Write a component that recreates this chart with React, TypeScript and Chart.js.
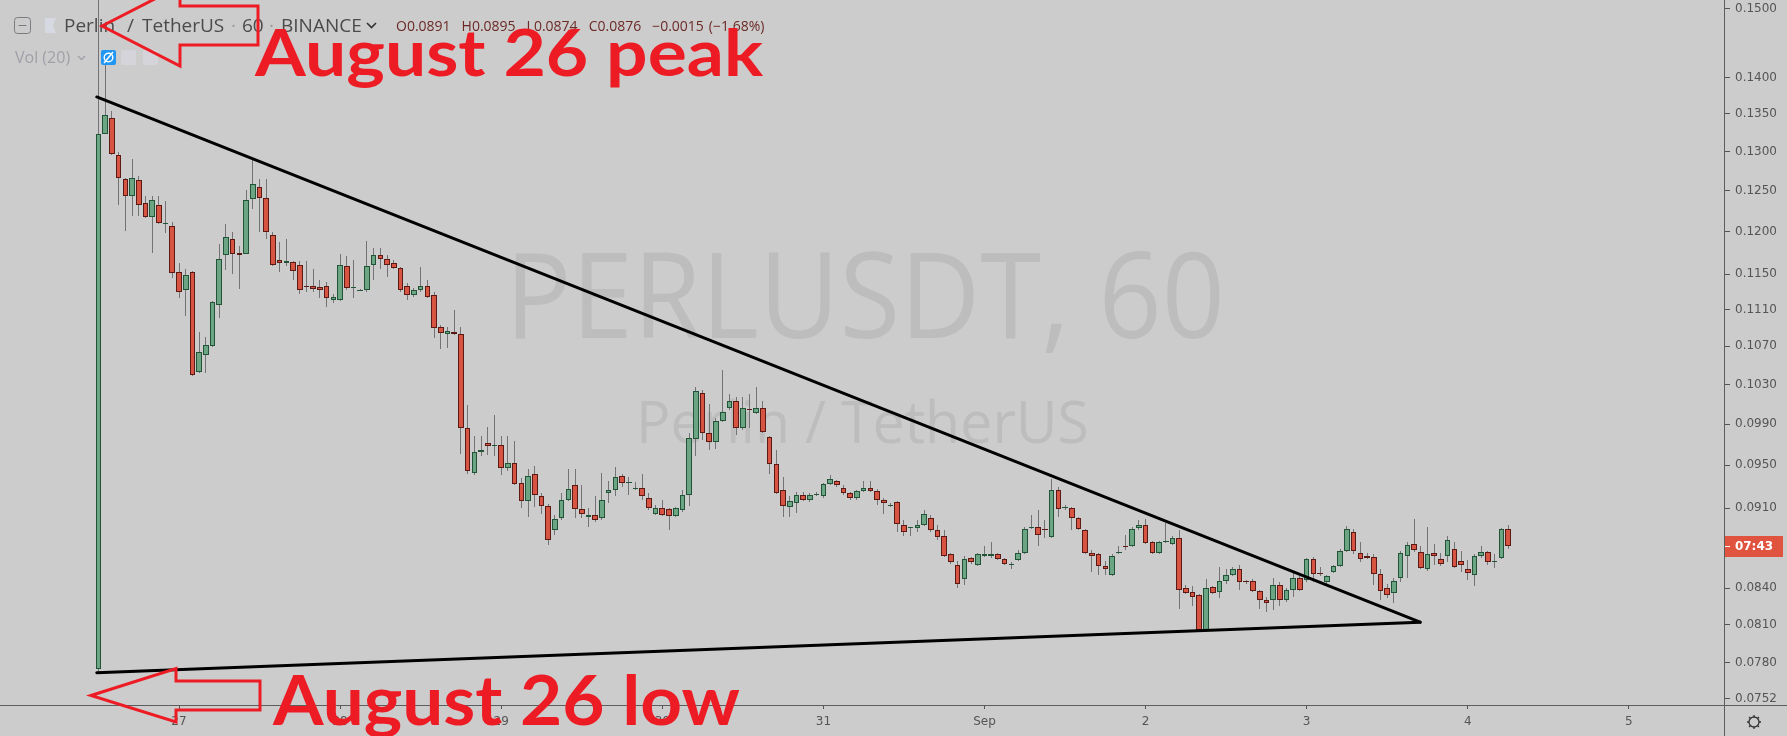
import React, { useEffect, useRef } from "react";
import { Chart, registerables } from "chart.js";

Chart.register(...registerables);

// Hourly candles, PERL/USDT (Binance, 60 min). First candle: Aug 26, 12:00 (hour 12 from Aug 26 00:00)
const START_HOUR = 12;

const opens = [
  0.0775, 0.1323, 0.1345, 0.1295, 0.1265, 0.1243, 0.1263, 0.1235, 0.1218, 0.1233,
  0.1210, 0.1207, 0.1153, 0.1132, 0.1153, 0.1043, 0.1061, 0.1070, 0.1115, 0.1172,
  0.1191, 0.1175, 0.1174, 0.1240, 0.1255, 0.1241, 0.1196, 0.1166, 0.1163, 0.1164,
  0.1161, 0.1137, 0.1136, 0.1135, 0.1136, 0.1121, 0.1121, 0.1160, 0.1134, 0.1132,
  0.1132, 0.1161, 0.1172, 0.1168, 0.1163, 0.1157, 0.1136, 0.1126, 0.1132, 0.1136,
  0.1126, 0.1091, 0.1083, 0.1085, 0.1083, 0.0986, 0.0943, 0.0963, 0.0971, 0.0968,
  0.0969, 0.0947, 0.0952, 0.0933, 0.0917, 0.0942, 0.0921, 0.0912, 0.0890, 0.0901,
  0.0918, 0.0931, 0.0909, 0.0902, 0.0904, 0.0901, 0.0924, 0.0927, 0.0940, 0.0933,
  0.0928, 0.0929, 0.0919, 0.0905, 0.0910, 0.0909, 0.0903, 0.0908, 0.0922, 0.0975,
  0.1021, 0.0981, 0.0972, 0.0993, 0.1006, 0.1013, 0.0986, 0.1005, 0.1001, 0.1006,
  0.0977, 0.0951, 0.0927, 0.0911, 0.0915, 0.0922, 0.0918, 0.0922, 0.0921, 0.0932,
  0.0935, 0.0929, 0.0924, 0.0919, 0.0926, 0.0929, 0.0926, 0.0918, 0.0912, 0.0916,
  0.0895, 0.0892, 0.0892, 0.0895, 0.0901, 0.0890, 0.0885, 0.0869, 0.0860, 0.0848,
  0.0866, 0.0860, 0.0868, 0.0868, 0.0869, 0.0865, 0.0860, 0.0864, 0.0870, 0.0892,
  0.0893, 0.0891, 0.0884, 0.0927, 0.0910, 0.0910, 0.0901, 0.0890, 0.0870, 0.0869,
  0.0859, 0.0851, 0.0870, 0.0876, 0.0876, 0.0892, 0.0895, 0.0880, 0.0870, 0.0880,
  0.0878, 0.0883, 0.0840, 0.0837, 0.0834, 0.0806, 0.0841, 0.0837, 0.0846, 0.0851,
  0.0856, 0.0846, 0.0846, 0.0838, 0.0830, 0.0830, 0.0843, 0.0830, 0.0839, 0.0849,
  0.0847, 0.0865, 0.0853, 0.0845, 0.0854, 0.0859, 0.0872, 0.0889, 0.0870, 0.0868,
  0.0867, 0.0852, 0.0840, 0.0836, 0.0849, 0.0868, 0.0878, 0.0871, 0.0856, 0.0870,
  0.0865, 0.0868, 0.0874, 0.0863, 0.0856, 0.0851, 0.0868, 0.0871, 0.0863, 0.0866,
  0.0891,
];

const highs = [
  0.1550, 0.1425, 0.1354, 0.1300, 0.1266, 0.1291, 0.1269, 0.1243, 0.1244, 0.1243,
  0.1237, 0.1212, 0.1163, 0.1156, 0.1154, 0.1085, 0.1080, 0.1120, 0.1185, 0.1209,
  0.1200, 0.1183, 0.1251, 0.1290, 0.1265, 0.1265, 0.1200, 0.1188, 0.1191, 0.1165,
  0.1165, 0.1165, 0.1156, 0.1143, 0.1141, 0.1127, 0.1173, 0.1171, 0.1166, 0.1133,
  0.1189, 0.1181, 0.1181, 0.1172, 0.1166, 0.1158, 0.1140, 0.1134, 0.1158, 0.1143,
  0.1130, 0.1093, 0.1091, 0.1110, 0.1091, 0.1009, 0.0978, 0.0978, 0.0987, 0.0999,
  0.0978, 0.0978, 0.0973, 0.0938, 0.0946, 0.0949, 0.0924, 0.0914, 0.0904, 0.0924,
  0.0946, 0.0946, 0.0931, 0.0910, 0.0921, 0.0943, 0.0935, 0.0948, 0.0942, 0.0939,
  0.0934, 0.0942, 0.0924, 0.0913, 0.0918, 0.0910, 0.0911, 0.0927, 0.0981, 0.1027,
  0.1024, 0.1010, 0.0996, 0.1045, 0.1020, 0.1017, 0.1017, 0.1020, 0.1027, 0.1013,
  0.0978, 0.0965, 0.0939, 0.0921, 0.0925, 0.0925, 0.0924, 0.0925, 0.0933, 0.0941,
  0.0936, 0.0931, 0.0925, 0.0927, 0.0935, 0.0935, 0.0928, 0.0919, 0.0915, 0.0917,
  0.0899, 0.0893, 0.0899, 0.0908, 0.0904, 0.0895, 0.0890, 0.0870, 0.0863, 0.0868,
  0.0867, 0.0870, 0.0876, 0.0880, 0.0870, 0.0866, 0.0862, 0.0873, 0.0893, 0.0904,
  0.0908, 0.0899, 0.0937, 0.0930, 0.0913, 0.0911, 0.0902, 0.0891, 0.0873, 0.0870,
  0.0863, 0.0869, 0.0876, 0.0886, 0.0893, 0.0899, 0.0900, 0.0881, 0.0881, 0.0897,
  0.0885, 0.0890, 0.0843, 0.0842, 0.0835, 0.0848, 0.0842, 0.0858, 0.0856, 0.0858,
  0.0860, 0.0847, 0.0848, 0.0839, 0.0833, 0.0849, 0.0845, 0.0840, 0.0853, 0.0850,
  0.0866, 0.0867, 0.0858, 0.0851, 0.0860, 0.0874, 0.0894, 0.0891, 0.0880, 0.0870,
  0.0869, 0.0856, 0.0844, 0.0849, 0.0872, 0.0880, 0.0900, 0.0876, 0.0893, 0.0878,
  0.0870, 0.0885, 0.0880, 0.0872, 0.0864, 0.0869, 0.0876, 0.0872, 0.0869, 0.0892,
  0.0895,
];

const lows = [
  0.0772, 0.1323, 0.1296, 0.1232, 0.1201, 0.1219, 0.1219, 0.1217, 0.1175, 0.1209,
  0.1198, 0.1146, 0.1123, 0.1103, 0.1039, 0.1042, 0.1042, 0.1069, 0.1101, 0.1155,
  0.1150, 0.1133, 0.1174, 0.1228, 0.1200, 0.1191, 0.1159, 0.1153, 0.1159, 0.1143,
  0.1128, 0.1130, 0.1130, 0.1123, 0.1113, 0.1117, 0.1120, 0.1132, 0.1123, 0.1131,
  0.1130, 0.1143, 0.1156, 0.1147, 0.1156, 0.1130, 0.1121, 0.1124, 0.1130, 0.1123,
  0.1079, 0.1067, 0.1068, 0.1082, 0.0961, 0.0942, 0.0941, 0.0959, 0.0960, 0.0959,
  0.0941, 0.0945, 0.0931, 0.0910, 0.0902, 0.0911, 0.0905, 0.0877, 0.0886, 0.0899,
  0.0917, 0.0901, 0.0901, 0.0893, 0.0898, 0.0899, 0.0915, 0.0921, 0.0930, 0.0922,
  0.0927, 0.0918, 0.0908, 0.0904, 0.0903, 0.0890, 0.0902, 0.0907, 0.0912, 0.0959,
  0.0974, 0.0965, 0.0966, 0.0992, 0.1004, 0.0979, 0.0984, 0.0986, 0.1000, 0.0981,
  0.0942, 0.0923, 0.0902, 0.0902, 0.0906, 0.0917, 0.0916, 0.0921, 0.0919, 0.0931,
  0.0930, 0.0922, 0.0918, 0.0918, 0.0925, 0.0925, 0.0913, 0.0905, 0.0911, 0.0889,
  0.0885, 0.0885, 0.0889, 0.0894, 0.0889, 0.0882, 0.0867, 0.0861, 0.0840, 0.0843,
  0.0861, 0.0859, 0.0867, 0.0866, 0.0864, 0.0860, 0.0856, 0.0863, 0.0869, 0.0891,
  0.0876, 0.0883, 0.0883, 0.0902, 0.0908, 0.0890, 0.0890, 0.0869, 0.0854, 0.0851,
  0.0851, 0.0850, 0.0869, 0.0873, 0.0875, 0.0890, 0.0878, 0.0869, 0.0869, 0.0879,
  0.0877, 0.0823, 0.0835, 0.0825, 0.0805, 0.0805, 0.0835, 0.0832, 0.0844, 0.0850,
  0.0839, 0.0844, 0.0837, 0.0823, 0.0820, 0.0822, 0.0825, 0.0829, 0.0833, 0.0838,
  0.0845, 0.0845, 0.0850, 0.0844, 0.0853, 0.0858, 0.0871, 0.0869, 0.0862, 0.0865,
  0.0843, 0.0830, 0.0832, 0.0828, 0.0845, 0.0849, 0.0871, 0.0856, 0.0855, 0.0860,
  0.0859, 0.0862, 0.0857, 0.0854, 0.0847, 0.0842, 0.0866, 0.0860, 0.0857, 0.0865,
  0.0874,
];

const closes = [
  0.1323, 0.1348, 0.1297, 0.1266, 0.1244, 0.1266, 0.1233, 0.1218, 0.1239, 0.1210,
  0.1211, 0.1151, 0.1130, 0.1149, 0.1040, 0.1064, 0.1071, 0.1119, 0.1168, 0.1194,
  0.1173, 0.1172, 0.1239, 0.1258, 0.1241, 0.1200, 0.1161, 0.1163, 0.1165, 0.1154,
  0.1132, 0.1135, 0.1133, 0.1132, 0.1123, 0.1124, 0.1161, 0.1134, 0.1135, 0.1132,
  0.1159, 0.1172, 0.1168, 0.1161, 0.1157, 0.1132, 0.1126, 0.1132, 0.1136, 0.1124,
  0.1090, 0.1084, 0.1087, 0.1083, 0.0986, 0.0945, 0.0963, 0.0965, 0.0968, 0.0969,
  0.0947, 0.0952, 0.0932, 0.0917, 0.0940, 0.0922, 0.0912, 0.0882, 0.0900, 0.0918,
  0.0928, 0.0909, 0.0905, 0.0904, 0.0899, 0.0918, 0.0927, 0.0939, 0.0933, 0.0934,
  0.0929, 0.0921, 0.0910, 0.0910, 0.0904, 0.0903, 0.0910, 0.0922, 0.0976, 0.1023,
  0.0981, 0.0972, 0.0993, 0.1002, 0.1013, 0.0986, 0.1006, 0.1004, 0.1006, 0.0982,
  0.0951, 0.0924, 0.0912, 0.0917, 0.0922, 0.0918, 0.0922, 0.0923, 0.0932, 0.0937,
  0.0931, 0.0924, 0.0919, 0.0926, 0.0929, 0.0926, 0.0918, 0.0915, 0.0913, 0.0896,
  0.0889, 0.0893, 0.0895, 0.0905, 0.0890, 0.0884, 0.0868, 0.0862, 0.0844, 0.0865,
  0.0862, 0.0869, 0.0869, 0.0869, 0.0865, 0.0861, 0.0861, 0.0870, 0.0891, 0.0893,
  0.0886, 0.0890, 0.0927, 0.0909, 0.0911, 0.0901, 0.0891, 0.0870, 0.0868, 0.0859,
  0.0856, 0.0868, 0.0871, 0.0875, 0.0891, 0.0895, 0.0879, 0.0870, 0.0880, 0.0881,
  0.0883, 0.0839, 0.0836, 0.0833, 0.0806, 0.0840, 0.0836, 0.0846, 0.0851, 0.0856,
  0.0845, 0.0845, 0.0838, 0.0830, 0.0828, 0.0843, 0.0830, 0.0839, 0.0849, 0.0839,
  0.0865, 0.0852, 0.0852, 0.0850, 0.0859, 0.0872, 0.0891, 0.0872, 0.0865, 0.0866,
  0.0852, 0.0838, 0.0834, 0.0846, 0.0870, 0.0877, 0.0873, 0.0857, 0.0869, 0.0868,
  0.0861, 0.0882, 0.0858, 0.0860, 0.0853, 0.0868, 0.0871, 0.0862, 0.0863, 0.0891,
  0.0876,
];

// hour offsets (from Aug 26 00:00) of each hourly candle
const hours = opens.map((_, i) => START_HOUR + i);

// time axis: midnight of each day
const dayTickHours = [24, 48, 72, 96, 120, 144, 168, 192, 216, 240];
const dayTickLabels = ["27", "28", "29", "30", "31", "Sep", "2", "3", "4", "5"];

// price axis ticks
const priceTicks = [
  0.15, 0.14, 0.135, 0.13, 0.125, 0.12, 0.115, 0.111, 0.107, 0.103,
  0.099, 0.095, 0.091, 0.087, 0.084, 0.081, 0.078, 0.0752,
];

// visible ranges
const X_MIN = -2.667;
const X_MAX = 254.17;
const Y_MIN = 0.074749;
const Y_MAX = 0.15128;

// hand-drawn triangle (hour, price)
const trendUpper = [
  { x: 11.75, y: 0.1373 },
  { x: 208.9, y: 0.0812 },
];
const trendLower = [
  { x: 11.75, y: 0.0772 },
  { x: 208.9, y: 0.0812 },
];

const legendValues = ["O0.0891", "H0.0895", "L0.0874", "C0.0876", "\u22120.0015", "(\u22121.68%)"];
const lastPrice = 0.0876;
const countdown = "07:43";

const BG = "#cccccc";
const UP_FILL = "#6ba583";
const UP_BORDER = "#225437";
const DOWN_FILL = "#d75442";
const DOWN_BORDER = "#5b1a13";
const WICK = "#737375";
const RED = "#ed1c24";

function fitText(
  ctx: CanvasRenderingContext2D,
  text: string,
  x: number,
  baseline: number,
  cap: number,
  width: number,
  weight: string,
  family: string,
  color: string
) {
  ctx.save();
  ctx.font = `${weight} 100px ${family}`;
  const m = ctx.measureText("H");
  const ratio = (m.actualBoundingBoxAscent || 71.4) / 100;
  const size = cap / ratio;
  ctx.font = `${weight} ${size}px ${family}`;
  const w = ctx.measureText(text).width;
  ctx.translate(x, baseline);
  ctx.scale(width / w, 1);
  ctx.fillStyle = color;
  ctx.textBaseline = "alphabetic";
  ctx.textAlign = "left";
  ctx.fillText(text, 0, 0);
  ctx.restore();
}

function roundRect(ctx: CanvasRenderingContext2D, x: number, y: number, w: number, h: number, r: number) {
  ctx.beginPath();
  ctx.moveTo(x + r, y);
  ctx.lineTo(x + w - r, y);
  ctx.quadraticCurveTo(x + w, y, x + w, y + r);
  ctx.lineTo(x + w, y + h - r);
  ctx.quadraticCurveTo(x + w, y + h, x + w - r, y + h);
  ctx.lineTo(x + r, y + h);
  ctx.quadraticCurveTo(x, y + h, x, y + h - r);
  ctx.lineTo(x, y + r);
  ctx.quadraticCurveTo(x, y, x + r, y);
  ctx.closePath();
}

function drawArrow(ctx: CanvasRenderingContext2D, pts: number[][]) {
  ctx.save();
  ctx.strokeStyle = RED;
  ctx.lineWidth = 3;
  ctx.lineJoin = "miter";
  ctx.beginPath();
  pts.forEach((p, i) => (i === 0 ? ctx.moveTo(p[0], p[1]) : ctx.lineTo(p[0], p[1])));
  ctx.closePath();
  ctx.stroke();
  ctx.restore();
}

const tvPlugin = {
  id: "tvPlugin",
  beforeDraw(chart: any) {
    const { ctx, width, height } = chart;
    ctx.save();
    ctx.fillStyle = BG;
    ctx.fillRect(0, 0, width, height);
    ctx.restore();
  },
  beforeDatasetsDraw(chart: any) {
    const ctx = chart.ctx as CanvasRenderingContext2D;
    fitText(ctx, "PERLUSDT, 60", 505, 338, 87, 720, "normal", '"Open Sans"', "#bdbdbd");
    fitText(ctx, "Perlin / TetherUS", 636, 443, 43, 453, "normal", '"Open Sans"', "#bdbdbd");
  },
  afterDatasetsDraw(chart: any) {
    const { ctx, chartArea: a, scales } = chart;
    const xs = scales.x;
    const ys = scales.y;
    ctx.save();
    ctx.beginPath();
    ctx.rect(a.left, a.top, a.right - a.left, a.bottom - a.top);
    ctx.clip();
    for (let i = 0; i < opens.length; i++) {
      const xc = xs.getPixelForValue(hours[i]);
      const wx = Math.round(xc - 0.5);
      const yh = Math.round(ys.getPixelForValue(highs[i]));
      const yl = Math.round(ys.getPixelForValue(lows[i]));
      const yo = ys.getPixelForValue(opens[i]);
      const yc = ys.getPixelForValue(closes[i]);
      const up = closes[i] >= opens[i];
      ctx.fillStyle = WICK;
      ctx.fillRect(wx, yh, 1, Math.max(1, yl - yh));
      const top = Math.round(Math.min(yo, yc));
      const bot = Math.round(Math.max(yo, yc));
      const h = Math.max(1, bot - top);
      const left = Math.round(xc - 2.8);
      const right = Math.round(xc + 2.8);
      const bw = right - left;
      ctx.fillStyle = up ? UP_BORDER : DOWN_BORDER;
      ctx.fillRect(left, top, bw, h);
      if (h > 2) {
        ctx.fillStyle = up ? UP_FILL : DOWN_FILL;
        ctx.fillRect(left + 1, top + 1, bw - 2, h - 2);
      }
    }
    // trend lines
    ctx.strokeStyle = "#000";
    ctx.lineWidth = 3;
    ctx.lineCap = "round";
    [trendUpper, trendLower].forEach((ln) => {
      ctx.beginPath();
      ctx.moveTo(xs.getPixelForValue(ln[0].x), ys.getPixelForValue(ln[0].y));
      ctx.lineTo(xs.getPixelForValue(ln[1].x), ys.getPixelForValue(ln[1].y));
      ctx.stroke();
    });
    ctx.restore();
  },
  afterDraw(chart: any) {
    const { ctx, chartArea: a, scales, width, height } = chart;
    const ys = scales.y;
    ctx.save();
    // axis borders
    ctx.fillStyle = "#5d5d5d";
    ctx.fillRect(0, Math.round(a.bottom), width, 1);
    ctx.fillRect(Math.round(a.right), 0, 1, height);

    // last price / countdown label
    const py = Math.round(ys.getPixelForValue(lastPrice));
    ctx.fillStyle = "#e0533f";
    ctx.fillRect(a.right + 1, py - 10, 58, 21);
    ctx.fillStyle = "#ffffff";
    ctx.fillRect(a.right + 1, py, 5, 1);
    ctx.font = 'bold 12px "DejaVu Sans"';
    ctx.textAlign = "center";
    ctx.textBaseline = "middle";
    ctx.fillText(countdown, a.right + 30, py + 1);

    // settings gear
    const gx = 1754, gy = 722;
    ctx.strokeStyle = "#333";
    ctx.lineWidth = 1.3;
    ctx.beginPath();
    ctx.arc(gx, gy, 5, 0, Math.PI * 2);
    ctx.stroke();
    for (let k = 0; k < 8; k++) {
      const ang = (k * Math.PI) / 4;
      ctx.beginPath();
      ctx.moveTo(gx + Math.cos(ang) * 5, gy + Math.sin(ang) * 5);
      ctx.lineTo(gx + Math.cos(ang) * 7, gy + Math.sin(ang) * 7);
      ctx.stroke();
    }

    // header legend
    ctx.textAlign = "left";
    ctx.textBaseline = "alphabetic";
    ctx.strokeStyle = "#7a7a80";
    ctx.lineWidth = 1;
    roundRect(ctx, 14.5, 17.5, 16, 16, 3);
    ctx.stroke();
    ctx.beginPath();
    ctx.moveTo(18.5, 25.5);
    ctx.lineTo(26.5, 25.5);
    ctx.stroke();
    ctx.fillStyle = "#d6d9e2";
    ctx.beginPath();
    ctx.moveTo(45, 18);
    ctx.lineTo(56, 18);
    ctx.lineTo(53, 25.5);
    ctx.lineTo(56, 33);
    ctx.lineTo(45, 33);
    ctx.closePath();
    ctx.fill();

    ctx.font = '19px "Open Sans"';
    ctx.fillStyle = "#4b4b4b";
    ctx.fillText("Perlin", 64, 32);
    ctx.fillText("/", 127, 32);
    ctx.fillText("TetherUS", 142, 32);
    ctx.fillText("60", 242, 32);
    ctx.fillText("BINANCE", 281, 32);
    ctx.fillStyle = "#9a9a9a";
    ctx.fillText("\u00b7", 231, 32);
    ctx.fillText("\u00b7", 269, 32);
    ctx.strokeStyle = "#333";
    ctx.lineWidth = 1.6;
    ctx.beginPath();
    ctx.moveTo(367, 23);
    ctx.lineTo(371.5, 27.5);
    ctx.lineTo(376, 23);
    ctx.stroke();

    ctx.font = '14px "Open Sans"';
    ctx.fillStyle = "#6b2a26";
    let lx = 396;
    legendValues.forEach((t, i) => {
      ctx.fillText(t, lx, 31);
      lx += ctx.measureText(t).width + (i === 4 ? 5 : 11);
    });

    ctx.font = '16px "Open Sans"';
    ctx.fillStyle = "#a0a0a8";
    ctx.fillText("Vol (20)", 15, 63);
    ctx.strokeStyle = "#a0a0a8";
    ctx.lineWidth = 1.3;
    ctx.beginPath();
    ctx.moveTo(78, 56);
    ctx.lineTo(81.5, 59.5);
    ctx.lineTo(85, 56);
    ctx.stroke();
    ctx.fillStyle = "#2196f3";
    roundRect(ctx, 101, 50, 15, 15, 2);
    ctx.fill();
    ctx.strokeStyle = "#fff";
    ctx.lineWidth = 1.4;
    ctx.beginPath();
    ctx.arc(108.5, 57.5, 4.3, 0, Math.PI * 2);
    ctx.stroke();
    ctx.beginPath();
    ctx.moveTo(104, 63);
    ctx.lineTo(113, 52);
    ctx.stroke();
    ctx.fillStyle = "#d4d4da";
    roundRect(ctx, 121, 50, 15, 15, 2);
    ctx.fill();
    roundRect(ctx, 143, 50, 15, 15, 2);
    ctx.fill();

    // annotations
    drawArrow(ctx, [
      [102, 26], [180, -14], [180, 6], [258, 6], [258, 45], [180, 45], [180, 66],
    ]);
    drawArrow(ctx, [
      [91, 695.5], [176, 668.5], [176, 681], [260, 681], [260, 710], [176, 710], [176, 722],
    ]);
    fitText(ctx, "August 26 peak", 255, 76, 47, 508, "bold", "Lato", RED);
    fitText(ctx, "August 26 low", 273, 725, 50, 467, "bold", "Lato", RED);
    ctx.restore();
  },
};

export default function App() {
  const ref = useRef<HTMLCanvasElement>(null);
  useEffect(() => {
    document.body.style.margin = "0";
    const canvas = ref.current!;
    const chart = new Chart(canvas, {
      type: "line",
      data: {
        datasets: [
          {
            label: "PERLUSDT close",
            data: hours.map((h, i) => ({ x: h, y: closes[i] })),
            showLine: false,
            pointRadius: 0,
            borderColor: "rgba(0,0,0,0)",
            backgroundColor: "rgba(0,0,0,0)",
          },
        ],
      },
      options: {
        responsive: false,
        animation: false,
        devicePixelRatio: 1,
        events: [],
        layout: { padding: 0 },
        plugins: { legend: { display: false }, tooltip: { enabled: false }, title: { display: false } },
        scales: {
          x: {
            type: "linear",
            position: "bottom",
            min: X_MIN,
            max: X_MAX,
            afterBuildTicks: (s: any) => {
              s.ticks = dayTickHours.map((v) => ({ value: v }));
              s.min = X_MIN;
              s.max = X_MAX;
            },
            afterFit: (s: any) => {
              s.height = 31;
              s.paddingLeft = 0;
              s.paddingRight = 0;
            },
            ticks: {
              autoSkip: false,
              maxRotation: 0,
              minRotation: 0,
              color: "#555",
              font: { family: "DejaVu Sans", size: 12 },
              padding: 6,
              callback: (v: any) => {
                const k = dayTickHours.indexOf(Number(v));
                return k >= 0 ? dayTickLabels[k] : "";
              },
            },
            grid: { drawOnChartArea: false, drawTicks: true, tickLength: 4, color: "#555" },
            border: { display: false },
          },
          y: {
            type: "logarithmic",
            position: "right",
            min: Y_MIN,
            max: Y_MAX,
            afterBuildTicks: (s: any) => {
              s.ticks = priceTicks.map((v) => ({ value: v }));
              s.min = Y_MIN;
              s.max = Y_MAX;
            },
            afterFit: (s: any) => {
              s.width = 63;
              s.paddingTop = 0;
              s.paddingBottom = 0;
            },
            ticks: {
              autoSkip: false,
              color: "#555",
              font: { family: "DejaVu Sans", size: 12 },
              padding: 5,
              callback: (v: any) => Number(v).toFixed(4),
            },
            grid: { drawOnChartArea: false, drawTicks: true, tickLength: 6, color: "#555" },
            border: { display: false },
          },
        },
      } as any,
      plugins: [tvPlugin],
    });
    return () => chart.destroy();
  }, []);
  return (
    <div style={{ width: 1787, height: 736 }}>
      <canvas ref={ref} width={1787} height={736} style={{ display: "block" }} />
    </div>
  );
}
